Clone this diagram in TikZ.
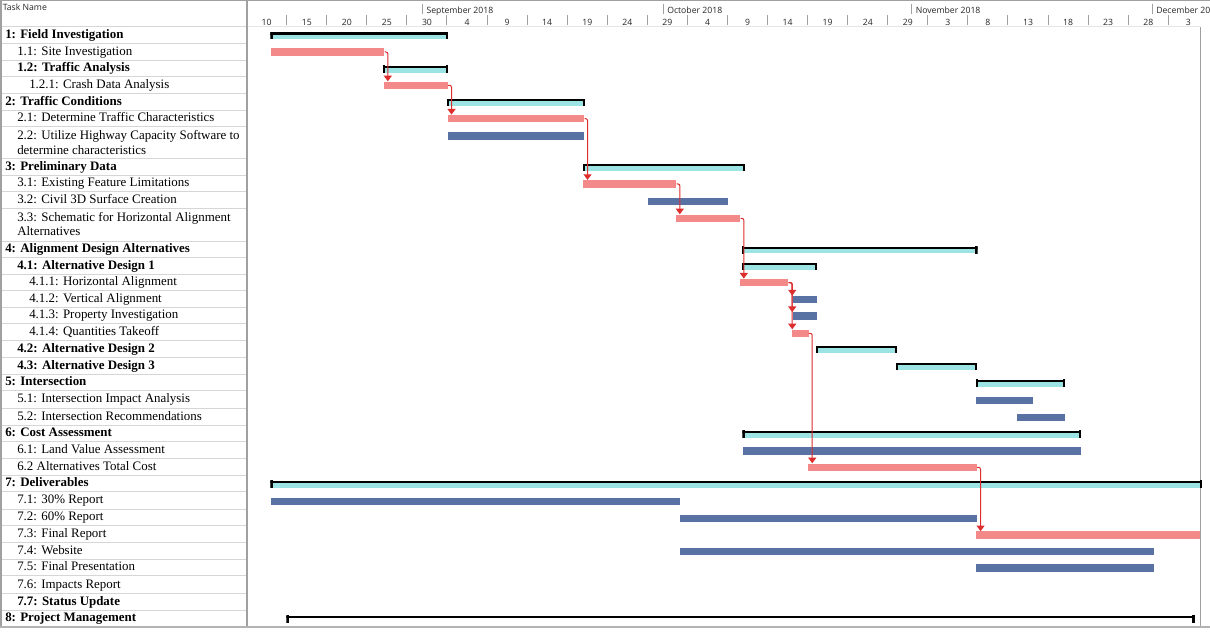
\documentclass[tikz,border=0pt]{standalone}
\usepackage{fontspec}
\setmainfont{Liberation Serif}
\newfontfamily\hdrfont{Open Sans}
\usetikzlibrary{arrows.meta}
\definecolor{critred}{RGB}{243,137,136}
\definecolor{taskblue}{RGB}{88,114,164}
\definecolor{sumcyan}{RGB}{156,227,227}
\definecolor{connred}{RGB}{222,45,45}
\definecolor{gridgray}{RGB}{160,160,160}
\definecolor{rowgray}{RGB}{214,214,214}
\newcommand\ganttbar[5]{\node[#2, anchor=west, minimum width={(#4-#3)*0.75pt}] (#1) at (#3,#5) {};}
\tikzset{
  lab/.style={anchor=base west, inner sep=0pt, font=\fontsize{9.7}{11}\selectfont},
  labb/.style={anchor=base west, inner sep=0pt, font=\fontsize{9.7}{11}\selectfont\bfseries},
  hdr/.style={inner sep=0pt, font=\hdrfont\fontsize{6.5}{7}\selectfont, text=black!85},
  task/.style={fill=critred, inner sep=0pt, minimum height=5.7pt, draw=none, yshift=-0.25pt},
  plan/.style={task, fill=taskblue},
  summblack/.style={inner sep=0pt, minimum height=5.55pt, yshift=-0.25pt,
    path picture={
      \fill[black] ([yshift=-0.35pt]path picture bounding box.north west) rectangle ([yshift=-2.0pt]path picture bounding box.north east);
      \fill[black] (path picture bounding box.north west) rectangle ([xshift=1.8pt]path picture bounding box.south west);
      \fill[black] (path picture bounding box.north east) rectangle ([xshift=-1.8pt]path picture bounding box.south east);
    }},
  summ/.style={inner sep=0pt, minimum height=5.55pt, yshift=-0.25pt,
    path picture={
      \fill[sumcyan] ([yshift=-2.0pt]path picture bounding box.north west) rectangle ([yshift=0.15pt]path picture bounding box.south east);
      \fill[black] ([yshift=-0.35pt]path picture bounding box.north west) rectangle ([yshift=-2.0pt]path picture bounding box.north east);
      \fill[black] (path picture bounding box.north west) rectangle ([xshift=1.8pt]path picture bounding box.south west);
      \fill[black] (path picture bounding box.north east) rectangle ([xshift=-1.8pt]path picture bounding box.south east);
    }},
  conn/.style={draw=connred, line width=0.75pt, rounded corners=1.5pt, -{Triangle[width=6pt,length=4.2pt]}},
  rowline/.style={draw=rowgray, line width=0.75pt},
  border/.style={draw=gridgray, line width=1.1pt},
  tick/.style={draw=gridgray, line width=0.75pt}
}
\begin{document}
\begin{tikzpicture}[x=0.75pt, y=-0.75pt]
\useasboundingbox (0,0) rectangle (1210,633);
\fill[white] (0,0) rectangle (1210,633);
\begin{scope}
\clip (0,0) rectangle (1210,633);
% ---------- row lines in the table ----------
\foreach \yy in {26.7,43.3,60,76.7,93.3,110,126.6,158.3,175,191.7,208.3,241,257.5,274,290.5,307,323.5,340.5,357,374,390.7,408,425,441.7,458.3,475,491.7,509,525.7,542.3,559,575.7,593.3,610}
  \draw[rowline] (0,\yy) -- (247,\yy);
\draw[draw=rowgray!60, line width=0.6pt] (247,26.7) -- (1200,26.7);
% ---------- borders ----------
\draw[border] (0,0.6) -- (1210,0.6);
\draw[border] (0.8,0) -- (0.8,627);
\draw[border] (247,0) -- (247,627);
\draw[border] (1200.5,26.7) -- (1200.5,627);
\draw[border, draw=gridgray!80] (0,626.9) -- (1210,626.9);
% ---------- header ----------
\node[hdr, anchor=base west] (hTask) at (2.5,10) {Task Name};
\foreach \k in {0,...,22} \draw[tick] ({286.7+40.07*\k},15) -- ({286.7+40.07*\k},25);
\foreach \lbl [count=\i from 0] in {10,15,20,25,30,4,9,14,19,24,29,4,9,14,19,24,29,3,8,13,18,23,28,3}
  \node[hdr, anchor=base] (d\i) at ({266.7+40.07*\i},25) {\lbl};
\draw[tick] (422.7,3.5) -- (422.7,14);
\draw[tick] (663.3,3.5) -- (663.3,14);
\draw[tick] (911.7,3.5) -- (911.7,14);
\draw[tick] (1152.3,3.5) -- (1152.3,14);
\node[hdr, anchor=base west] (mSep) at (426.3,13.5) {September 2018};
\node[hdr, anchor=base west] (mOct) at (667,13.5) {October 2018};
\node[hdr, anchor=base west] (mNov) at (915.5,13.5) {November 2018};
\node[hdr, anchor=base west] (mDec) at (1156,13.5) {December 2018};
% ---------- task names ----------
\node[labb] (l1)   at (5,38.5)   {1: Field Investigation};
\node[lab]  (l11)  at (17,55.2)  {1.1: Site Investigation};
\node[labb] (l12)  at (17,71.9)  {1.2: Traffic Analysis};
\node[lab]  (l121) at (29,88.5)  {1.2.1: Crash Data Analysis};
\node[labb] (l2)   at (5,105.2)  {2: Traffic Conditions};
\node[lab]  (l21)  at (17,121.8) {2.1: Determine Traffic Characteristics};
\node[lab]  (l22)  at (17,139.3) {2.2: Utilize Highway Capacity Software to};
\node[lab]  (l22b) at (17,154.3) {determine characteristics};
\node[labb] (l3)   at (5,170.2)  {3: Preliminary Data};
\node[lab]  (l31)  at (17,186.9) {3.1: Existing Feature Limitations};
\node[lab]  (l32)  at (17,203.5) {3.2: Civil 3D Surface Creation};
\node[lab]  (l33)  at (17,221.0) {3.3: Schematic for Horizontal Alignment};
\node[lab]  (l33b) at (17,235.7) {Alternatives};
\node[labb] (l4)   at (5,252.8)  {4: Alignment Design Alternatives};
\node[labb] (l41)  at (17,269.3) {4.1: Alternative Design 1};
\node[lab]  (l411) at (29,285.8) {4.1.1: Horizontal Alignment};
\node[lab]  (l412) at (29,302.3) {4.1.2: Vertical Alignment};
\node[lab]  (l413) at (29,318.8) {4.1.3: Property Investigation};
\node[lab]  (l414) at (29,335.5) {4.1.4: Quantities Takeoff};
\node[labb] (l42)  at (17,352.3) {4.2: Alternative Design 2};
\node[labb] (l43)  at (17,369.0) {4.3: Alternative Design 3};
\node[labb] (l5)   at (5,385.9)  {5: Intersection};
\node[lab]  (l51)  at (17,402.9) {5.1: Intersection Impact Analysis};
\node[lab]  (l52)  at (17,420.0) {5.2: Intersection Recommendations};
\node[labb] (l6)   at (5,436.9)  {6: Cost Assessment};
\node[lab]  (l61)  at (17,453.5) {6.1: Land Value Assessment};
\node[lab]  (l62)  at (17,470.2) {6.2 Alternatives Total Cost};
\node[labb] (l7)   at (5,486.9)  {7: Deliverables};
\node[lab]  (l71)  at (17,503.9) {7.1: 30\% Report};
\node[lab]  (l72)  at (17,520.9) {7.2: 60\% Report};
\node[lab]  (l73)  at (17,537.5) {7.3: Final Report};
\node[lab]  (l74)  at (17,554.2) {7.4: Website};
\node[lab]  (l75)  at (17,570.9) {7.5: Final Presentation};
\node[lab]  (l76)  at (17,588.0) {7.6: Impacts Report};
\node[labb] (l77)  at (17,605.2) {7.7: Status Update};
\node[labb] (l8)   at (5,621.9)  {8: Project Management};
% ---------- bars ----------
\ganttbar{b1}{summ}{270}{447.8}{35.35}
\ganttbar{b11}{task}{271}{384}{51.65}
\ganttbar{b12}{summ}{382.5}{447.8}{68.7}
\ganttbar{b121}{task}{383.3}{447.7}{85.0}
\ganttbar{b2}{summ}{446.5}{584.8}{102.0}
\ganttbar{b21}{task}{447.3}{584}{118.3}
\ganttbar{b22}{plan}{447.3}{584}{135.8}
\ganttbar{b3}{summ}{582.3}{744.8}{167.0}
\ganttbar{b31}{task}{583}{676}{183.6}
\ganttbar{b32}{plan}{647.3}{727.7}{201.0}
\ganttbar{b33}{task}{676}{740}{218.0}
\ganttbar{b4}{summ}{741.5}{977.3}{249.6}
\ganttbar{b41}{summ}{741.5}{817.2}{266.1}
\ganttbar{b411}{task}{740}{788}{282.3}
\ganttbar{b412}{plan}{792.5}{816.7}{299.2}
\ganttbar{b413}{plan}{792.5}{816.7}{315.8}
\ganttbar{b414}{task}{791.3}{808.3}{333.0}
\ganttbar{b42}{summ}{815.7}{897.2}{349.1}
\ganttbar{b43}{summ}{895.8}{977.0}{366.0}
\ganttbar{b5}{summ}{975.8}{1065.0}{382.7}
\ganttbar{b51}{plan}{976}{1033}{400.0}
\ganttbar{b52}{plan}{1016.5}{1065}{417.0}
\ganttbar{b6}{summ}{742.2}{1081.2}{433.7}
\ganttbar{b61}{plan}{742.7}{1081}{450.8}
\ganttbar{b62}{task}{807.3}{976.7}{467.0}
\ganttbar{b7}{summ}{270}{1202}{483.7}
\ganttbar{b71}{plan}{271}{680}{501.0}
\ganttbar{b72}{plan}{679.5}{976.7}{518.0}
\ganttbar{b73}{task}{976.2}{1200}{534.9}
\ganttbar{b74}{plan}{679.5}{1153.3}{551.2}
\ganttbar{b75}{plan}{976.2}{1153.3}{567.9}
\ganttbar{b8}{summblack}{286}{1194.5}{618.7}
% ---------- connectors ----------
\draw[conn] (b11.east)  -- ++(3.3,0) coordinate (k1) -- (k1 |- b121.north);
\draw[conn] (b121.east) -- ++(3.3,0) coordinate (k2) -- (k2 |- b21.north);
\draw[conn] (b21.east)  -- ++(3.0,0) coordinate (k3) -- (k3 |- b31.north);
\draw[conn] (b31.east)  -- ++(3.3,0) coordinate (k4) -- (k4 |- b33.north);
\draw[conn] (b33.east)  -- ++(3.3,0) coordinate (k5) -- (k5 |- b411.north);
\draw[conn] (b411.east) -- ++(3.7,0) coordinate (k6) -- (k6 |- b412.north);
\draw[conn] (b411.east) -- ++(3.7,0) coordinate (k7) -- (k7 |- b413.north);
\draw[conn] (b411.east) -- ++(3.7,0) coordinate (k8) -- (k8 |- b414.north);
\draw[conn] (b414.east) -- ++(3.4,0) coordinate (k9) -- (k9 |- b62.north);
\draw[conn] (b62.east)  -- ++(3.3,0) coordinate (k10) -- (k10 |- b73.north);
\end{scope}
\end{tikzpicture}
\end{document}
